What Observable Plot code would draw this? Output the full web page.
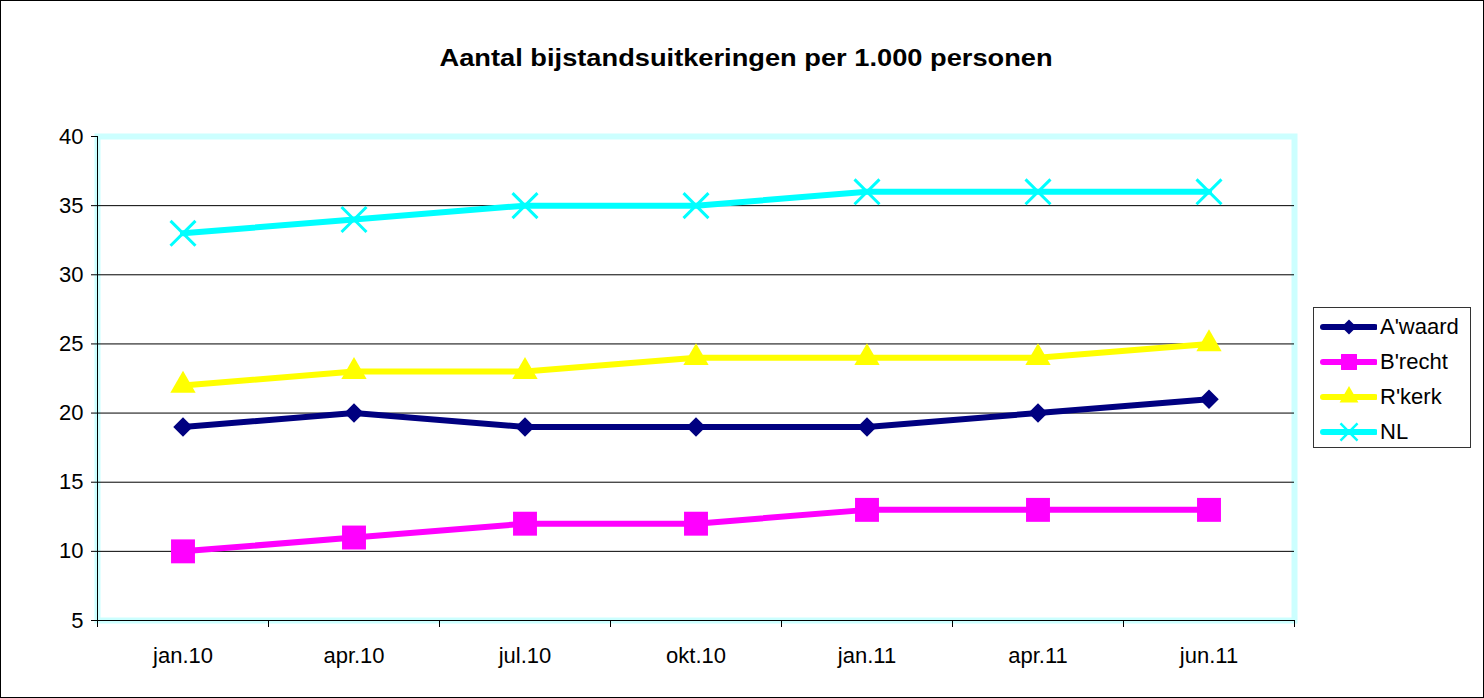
<!DOCTYPE html>
<html><head><meta charset="utf-8">
<script src="https://cdn.jsdelivr.net/npm/d3@7"></script>
<script src="https://cdn.jsdelivr.net/npm/@observablehq/plot@0.6"></script>
<style>
body{margin:0;background:#fff;font-family:"Liberation Sans",Arial,sans-serif;}
#wrap{position:relative;width:1484px;height:698px;overflow:hidden;background:#fff;}
#border{position:absolute;left:0;top:0;width:1484px;height:698px;box-sizing:border-box;border:1px solid #000;pointer-events:none;}
#title{position:absolute;top:44px;left:0;width:1492px;text-align:center;font-weight:bold;font-size:24px;color:#000;}
#title span{display:inline-block;transform:scaleX(1.135);transform-origin:center;}
#chart{position:absolute;left:0;top:0;}
#legend{position:absolute;left:1313px;top:307px;width:158px;height:141px;box-sizing:border-box;border:1px solid #333;padding-top:1px;}
.row{height:35px;display:flex;align-items:center;font-size:22px;color:#000;}
.row svg{margin-left:5px;margin-right:3px;}
</style></head>
<body>
<div id="wrap">
  <div id="chart"></div>
  <div id="title"><span>Aantal bijstandsuitkeringen per 1.000 personen</span></div>
  <div id="legend"></div>
  <div id="border"></div>
</div>
<script>
const months = ["jan.10","apr.10","jul.10","okt.10","jan.11","apr.11","jun.11"];
const awaard = [19,20,19,19,19,20,21];
const brecht = [10,11,12,12,13,13,13];
const rkerk  = [22,23,23,24,24,24,25];
const nl     = [33,34,35,35,36,36,36];
const seriesNames   = ["A'waard","B'recht","R'kerk","NL"];
const seriesValues  = [awaard, brecht, rkerk, nl];
const seriesColors  = ["#000080","#ff00ff","#ffff00","#00ffff"];
const seriesSymbols = ["diamond2","square","triangle","times"];
const yTicks = [5,10,15,20,25,30,35,40];

const rows = [];
seriesNames.forEach((s, k) => seriesValues[k].forEach((v, i) => rows.push({series: s, i, month: months[i], value: v})));

const idx = months.map((_, i) => i);
const bounds = months.map((_, i) => i - 0.5).concat([months.length - 0.5]);
const gridTicks = yTicks.slice(1, -1);
const symbolR = {"A'waard": 8.8, "B'recht": 13.5, "R'kerk": 9.4, "NL": 11.4};

const marks = [
  Plot.frame({stroke: "#ccffff", strokeWidth: 6}),
  Plot.ruleY(gridTicks, {stroke: "#000", strokeWidth: 1}),
  Plot.ruleX([bounds[0]], {stroke: "#000", strokeWidth: 1}),
  Plot.ruleY([yTicks[0]], {stroke: "#000", strokeWidth: 1}),
  Plot.axisY(yTicks, {tickSize: 6, tickPadding: 8, fontSize: 22, stroke: "#000", color: "#000", label: null}),
  Plot.axisX(bounds, {tickSize: 7, tickFormat: () => "", stroke: "#000", label: null}),
  Plot.axisX(idx, {tickSize: 0, tickPadding: 27, fontSize: 22, tickFormat: i => months[i], color: "#000", label: null})
];
seriesNames.forEach((s, k) => {
  const d = rows.filter(r => r.series === s);
  marks.push(Plot.line(d, {x: "i", y: "value", stroke: seriesColors[k], strokeWidth: 6, strokeLinejoin: "round"}));
  if (seriesSymbols[k] === "times") {
    marks.push(Plot.dot(d, {x: "i", y: "value", symbol: "times", r: symbolR[s], stroke: seriesColors[k], strokeWidth: 3}));
  } else {
    marks.push(Plot.dot(d, {x: "i", y: "value", symbol: seriesSymbols[k], r: symbolR[s], fill: seriesColors[k], stroke: "none"}));
  }
});

const chart = Plot.plot({
  width: 1484, height: 698,
  marginLeft: 97, marginRight: 190, marginTop: 136, marginBottom: 78,
  style: {fontFamily: "'Liberation Sans', Arial, sans-serif", background: "transparent", color: "#000"},
  x: {type: "linear", domain: [bounds[0], bounds[bounds.length - 1]], axis: null, label: null},
  y: {domain: [yTicks[0], yTicks[yTicks.length - 1]], axis: null, label: null},
  marks
});
document.getElementById("chart").appendChild(chart);

// legend
const legend = d3.select("#legend");
const legendR = {"A'waard": 6.8, "B'recht": 9, "R'kerk": 7, "NL": 7.8};
const symMap = {diamond2: d3.symbolDiamond2, square: d3.symbolSquare, triangle: d3.symbolTriangle, times: d3.symbolTimes};
seriesNames.forEach((s, k) => {
  const row = legend.append("div").attr("class", "row");
  const svg = row.append("svg").attr("width", 58).attr("height", 30);
  svg.append("line").attr("x1", 4).attr("x2", 56).attr("y1", 15).attr("y2", 15)
    .attr("stroke", seriesColors[k]).attr("stroke-width", 6).attr("stroke-linecap", "round");
  const r = legendR[s];
  const path = d3.symbol(symMap[seriesSymbols[k]], Math.PI * r * r)();
  const p = svg.append("path").attr("d", path).attr("transform", "translate(30,15)");
  if (seriesSymbols[k] === "times") p.attr("fill", "none").attr("stroke", seriesColors[k]).attr("stroke-width", 2.5);
  else p.attr("fill", seriesColors[k]);
  row.append("span").text(s);
});
</script>
</body></html>
